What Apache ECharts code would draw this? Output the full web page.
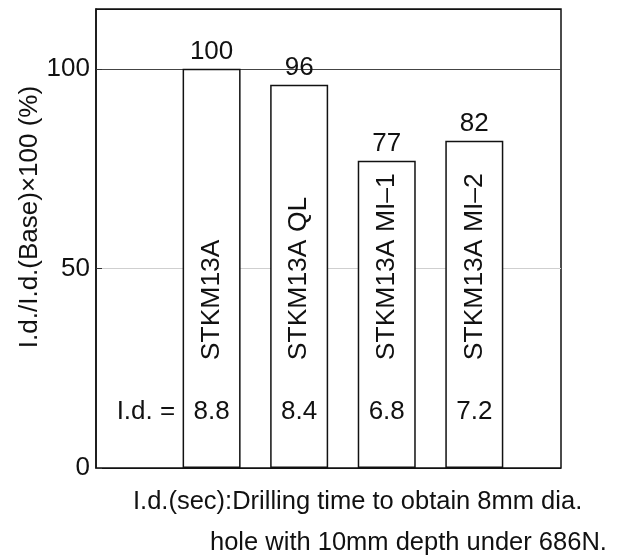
<!DOCTYPE html>
<html>
<head>
<meta charset="utf-8">
<script src="https://cdn.jsdelivr.net/npm/echarts@6/dist/echarts.min.js"></script>
<style>html,body{margin:0;padding:0;background:#fff;}#c{width:622px;height:556px;}</style>
</head>
<body>
<div id="c"></div>
<script>
const categories = ['STKM13A', 'STKM13A QL', 'STKM13A MI\u20131', 'STKM13A MI\u20132'];
const ratioValues = [100, 96, 77, 82];
const idValues = ['8.8', '8.4', '6.8', '7.2'];
const yTicks = [0, 50, 100];
const yAxisTitle = 'I.d./I.d.(Base)\u00d7100 (%)';
const noteLine1 = 'I.d.(sec):Drilling time to obtain 8mm dia.';
const noteLine2 = 'hole with 10mm depth under 686N.';
const idPrefix = 'I.d. =';

const FONT = '"Liberation Sans", Arial, sans-serif';
const TXT = '#111';

const xPos = categories.map((c, i) => i + 1);
const barData = ratioValues.map((v, i) => [xPos[i], v]);
const nameData = categories.map((c, i) => ({ value: [xPos[i], 27], name: c }));
const idData = [{ value: [0.25, 14.1], label: idPrefix }].concat(
  idValues.map((v, i) => ({ value: [xPos[i], 14.1], label: v }))
);

const chart = echarts.init(document.getElementById('c'), null, { renderer: 'canvas' });
chart.setOption({
  backgroundColor: '#fff',
  animation: false,
  grid: { left: 96, right: 61, top: 9, bottom: 88, show: true, borderColor: '#111', borderWidth: 1.5, backgroundColor: 'transparent' },
  xAxis: {
    type: 'value', min: -0.32, max: 4.99,
    axisLine: { show: false }, axisTick: { show: false }, axisLabel: { show: false }, splitLine: { show: false }
  },
  yAxis: {
    type: 'value', min: 0, max: 115, interval: 50,
    axisLine: { show: true, onZero: false, lineStyle: { color: '#111', width: 1.5 } },
    axisTick: { show: true, inside: true, length: 6, lineStyle: { color: '#333', width: 1 } },
    axisLabel: {
      showMaxLabel: false, margin: 6, color: TXT, fontSize: 26, fontFamily: FONT,
      formatter: v => (yTicks.indexOf(v) >= 0 ? String(v) : '')
    },
    splitLine: { show: true, lineStyle: { color: ['#111', '#cfcfcf', '#444', '#111'], width: 1.2 } }
  },
  graphic: [
    { type: 'text', x: 30, y: 217, rotation: Math.PI / 2,
      style: { text: yAxisTitle, fontSize: 26, fontFamily: FONT, fill: TXT, textAlign: 'center', textVerticalAlign: 'middle' } },
    { type: 'text', x: 133, y: 502,
      style: { text: noteLine1, fontSize: 25.5, fontFamily: FONT, fill: TXT, textAlign: 'left', textVerticalAlign: 'middle' } },
    { type: 'text', x: 210, y: 543,
      style: { text: noteLine2, fontSize: 25.5, fontFamily: FONT, fill: TXT, textAlign: 'left', textVerticalAlign: 'middle' } }
  ],
  series: [
    {
      type: 'bar', data: barData, barWidth: 58,
      itemStyle: { color: '#fff', borderColor: '#111', borderWidth: 1.5 },
      label: { show: true, position: 'top', distance: 4, color: TXT, fontSize: 26, fontFamily: FONT,
        formatter: p => String(p.value[1]) },
      z: 2
    },
    {
      type: 'scatter', data: nameData, symbolSize: 0, silent: true,
      itemStyle: { opacity: 1 },
      label: { show: true, position: 'inside', rotate: 90, align: 'left', verticalAlign: 'middle',
        color: TXT, fontSize: 26.5, fontFamily: FONT, formatter: p => p.name },
      z: 5
    },
    {
      type: 'scatter', data: idData, symbolSize: 0, silent: true,
      itemStyle: { opacity: 1 },
      label: { show: true, position: 'inside', color: TXT, fontSize: 26, fontFamily: FONT,
        formatter: p => p.data.label },
      z: 5
    }
  ]
});
</script>
</body>
</html>
